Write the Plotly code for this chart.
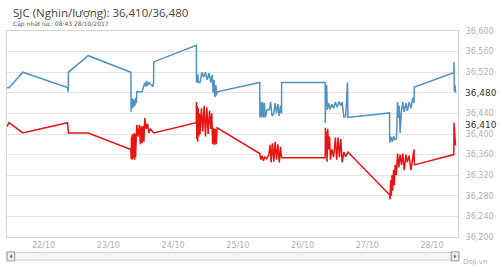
import plotly.graph_objects as go

sell_time = [
    "2017-10-21 10:24", "2017-10-21 11:08", "2017-10-21 16:16",
    "2017-10-22 08:50", "2017-10-22 09:05", "2017-10-22 09:11", "2017-10-22 16:32",
    "2017-10-23 08:21", "2017-10-23 08:25", "2017-10-23 08:40", "2017-10-23 08:55", "2017-10-23 09:10",
    "2017-10-23 09:20", "2017-10-23 09:35", "2017-10-23 09:50", "2017-10-23 10:05", "2017-10-23 10:20",
    "2017-10-23 10:33", "2017-10-23 12:30", "2017-10-23 13:29", "2017-10-23 13:50", "2017-10-23 14:10",
    "2017-10-23 14:30", "2017-10-23 15:00", "2017-10-23 15:40", "2017-10-23 16:30", "2017-10-23 16:45",
    "2017-10-23 16:48",
    "2017-10-24 08:36", "2017-10-24 08:40", "2017-10-24 08:50", "2017-10-24 09:00", "2017-10-24 09:10",
    "2017-10-24 09:20", "2017-10-24 10:00", "2017-10-24 10:40", "2017-10-24 11:20", "2017-10-24 12:00",
    "2017-10-24 12:40", "2017-10-24 13:20", "2017-10-24 14:00", "2017-10-24 14:30", "2017-10-24 14:50",
    "2017-10-24 15:10", "2017-10-24 15:30", "2017-10-24 15:50", "2017-10-24 16:05", "2017-10-24 16:19",
    "2017-10-25 08:07", "2017-10-25 08:10", "2017-10-25 08:30", "2017-10-25 08:50", "2017-10-25 09:10",
    "2017-10-25 09:30", "2017-10-25 09:50", "2017-10-25 10:10", "2017-10-25 10:50", "2017-10-25 11:40",
    "2017-10-25 12:10", "2017-10-25 12:40", "2017-10-25 13:20", "2017-10-25 13:50", "2017-10-25 14:20",
    "2017-10-25 14:50", "2017-10-25 15:20", "2017-10-25 15:50", "2017-10-25 16:12", "2017-10-25 16:14",
    "2017-10-26 08:23", "2017-10-26 08:26", "2017-10-26 08:35", "2017-10-26 08:45", "2017-10-26 08:55",
    "2017-10-26 09:10", "2017-10-26 09:40", "2017-10-26 10:10", "2017-10-26 10:50", "2017-10-26 11:30",
    "2017-10-26 12:10", "2017-10-26 12:50", "2017-10-26 13:30", "2017-10-26 14:10", "2017-10-26 14:40",
    "2017-10-26 15:20", "2017-10-26 16:00", "2017-10-26 16:40", "2017-10-26 16:49",
    "2017-10-27 08:15", "2017-10-27 08:18", "2017-10-27 08:45", "2017-10-27 09:15", "2017-10-27 09:45",
    "2017-10-27 10:20", "2017-10-27 10:50", "2017-10-27 11:13", "2017-10-27 11:30", "2017-10-27 11:50",
    "2017-10-27 12:10", "2017-10-27 12:40", "2017-10-27 13:10", "2017-10-27 13:40", "2017-10-27 14:20",
    "2017-10-27 14:50", "2017-10-27 15:30", "2017-10-27 16:10", "2017-10-27 16:50", "2017-10-27 17:20",
    "2017-10-27 17:27",
    "2017-10-28 08:05", "2017-10-28 08:09", "2017-10-28 08:15", "2017-10-28 08:22", "2017-10-28 08:30",
    "2017-10-28 08:36", "2017-10-28 08:43",
]
sell_value = [
    36490, 36490, 36520,
    36490, 36482, 36520, 36552,
    36520, 36443, 36470, 36450, 36468,
    36452, 36466, 36455, 36470, 36460,
    36482, 36482, 36499, 36492, 36503,
    36494, 36500, 36496, 36492, 36500,
    36540,
    36572, 36500, 36515, 36500, 36516,
    36500, 36500, 36520, 36510, 36520,
    36505, 36518, 36500, 36515, 36480,
    36505, 36472, 36495, 36475, 36482,
    36500, 36432, 36462, 36432, 36462,
    36432, 36460, 36432, 36447, 36447,
    36462, 36435, 36440, 36460, 36440,
    36458, 36435, 36455, 36440, 36500,
    36500, 36422, 36490, 36455, 36495,
    36447, 36460, 36448, 36458, 36450,
    36462, 36452, 36463, 36455, 36462,
    36432, 36435, 36500, 36432,
    36441, 36383, 36395, 36385, 36396,
    36388, 36392, 36462, 36431, 36455,
    36402, 36445, 36462, 36443, 36460,
    36445, 36462, 36450, 36470, 36460,
    36491,
    36519, 36540, 36482, 36495, 36486,
    36492, 36480,
]

buy_time = [
    "2017-10-21 10:24", "2017-10-21 11:08", "2017-10-21 16:16",
    "2017-10-22 08:50", "2017-10-22 09:11", "2017-10-22 16:32",
    "2017-10-23 08:21", "2017-10-23 08:25", "2017-10-23 08:35", "2017-10-23 08:45", "2017-10-23 08:55",
    "2017-10-23 09:05", "2017-10-23 09:15", "2017-10-23 09:25", "2017-10-23 09:35", "2017-10-23 09:45",
    "2017-10-23 09:55", "2017-10-23 10:05", "2017-10-23 10:20", "2017-10-23 10:33", "2017-10-23 11:00",
    "2017-10-23 11:30", "2017-10-23 11:50", "2017-10-23 12:10", "2017-10-23 12:30", "2017-10-23 12:50",
    "2017-10-23 13:10", "2017-10-23 13:30", "2017-10-23 14:00", "2017-10-23 14:30", "2017-10-23 15:00",
    "2017-10-23 15:30", "2017-10-23 16:48",
    "2017-10-24 08:36", "2017-10-24 08:38", "2017-10-24 08:48", "2017-10-24 08:58", "2017-10-24 09:08",
    "2017-10-24 09:18", "2017-10-24 09:30", "2017-10-24 09:45", "2017-10-24 10:00", "2017-10-24 10:30",
    "2017-10-24 11:00", "2017-10-24 11:30", "2017-10-24 12:00", "2017-10-24 12:30", "2017-10-24 13:00",
    "2017-10-24 13:30", "2017-10-24 14:00", "2017-10-24 14:20", "2017-10-24 14:40", "2017-10-24 15:00",
    "2017-10-24 15:20", "2017-10-24 15:40", "2017-10-24 16:00", "2017-10-24 16:19",
    "2017-10-25 08:07", "2017-10-25 08:30", "2017-10-25 09:00", "2017-10-25 09:30", "2017-10-25 10:00",
    "2017-10-25 10:40", "2017-10-25 11:30", "2017-10-25 12:00", "2017-10-25 12:20", "2017-10-25 12:50",
    "2017-10-25 13:20", "2017-10-25 13:50", "2017-10-25 14:20", "2017-10-25 14:50", "2017-10-25 15:20",
    "2017-10-25 15:50", "2017-10-25 16:12",
    "2017-10-26 08:23", "2017-10-26 08:28", "2017-10-26 08:40", "2017-10-26 08:52", "2017-10-26 09:05",
    "2017-10-26 09:20", "2017-10-26 09:40", "2017-10-26 10:00", "2017-10-26 10:20", "2017-10-26 10:50",
    "2017-10-26 11:30", "2017-10-26 12:10", "2017-10-26 12:40", "2017-10-26 13:10", "2017-10-26 13:40",
    "2017-10-26 14:10", "2017-10-26 14:40", "2017-10-26 15:20", "2017-10-26 16:00", "2017-10-26 16:49",
    "2017-10-27 08:15", "2017-10-27 08:25", "2017-10-27 08:40", "2017-10-27 08:55", "2017-10-27 09:10",
    "2017-10-27 09:25", "2017-10-27 09:45", "2017-10-27 10:00", "2017-10-27 10:20", "2017-10-27 10:45",
    "2017-10-27 11:13", "2017-10-27 11:40", "2017-10-27 12:10", "2017-10-27 12:40", "2017-10-27 13:10",
    "2017-10-27 13:40", "2017-10-27 14:20", "2017-10-27 14:50", "2017-10-27 15:30", "2017-10-27 16:10",
    "2017-10-27 16:50", "2017-10-27 17:20", "2017-10-27 17:27",
    "2017-10-28 08:05", "2017-10-28 08:09", "2017-10-28 08:20", "2017-10-28 08:30", "2017-10-28 08:43",
]
buy_value = [
    36414, 36422, 36402,
    36422, 36402, 36402,
    36370, 36352, 36395, 36350, 36400,
    36352, 36398, 36355, 36402, 36350,
    36400, 36355, 36395, 36418, 36395,
    36418, 36380, 36415, 36382, 36416,
    36385, 36431, 36410, 36420, 36402,
    36410, 36402,
    36422, 36462, 36390, 36455, 36385,
    36450, 36395, 36440, 36400, 36450,
    36405, 36455, 36395, 36452, 36400,
    36445, 36410, 36440, 36380, 36412,
    36379, 36410, 36380, 36412,
    36362, 36350, 36358, 36348, 36356,
    36352, 36360, 36379, 36345, 36382,
    36346, 36385, 36350, 36380, 36345,
    36375, 36354,
    36354, 36412, 36360, 36405, 36346,
    36410, 36370, 36395, 36350, 36370,
    36355, 36393, 36350, 36393, 36355,
    36390, 36345, 36365, 36356, 36365,
    36282, 36273, 36310, 36280, 36320,
    36290, 36330, 36300, 36340, 36320,
    36362, 36335, 36360, 36340, 36362,
    36330, 36360, 36345, 36358, 36330,
    36360, 36370, 36340,
    36360, 36422, 36395, 36400, 36378,
]

y_ticks = list(range(36200, 36601, 40))
y_tick_text = ["" if v == 36480 else f"{v:,}" for v in y_ticks]
current_buy = 36410
current_sell = 36480
title_text = "SJC (Nghin/lượng): 36,410/36,480"
subtitle_text = "Cập nhật lúc: 08:43 28/10/2017"

fig = go.Figure()
fig.add_trace(go.Scatter(x=sell_time, y=sell_value, mode="lines",
                         line=dict(color="#4f93c3", width=1.5), hoverinfo="skip"))
fig.add_trace(go.Scatter(x=buy_time, y=buy_value, mode="lines",
                         line=dict(color="#e81414", width=1.5), hoverinfo="skip"))

font_family = "DejaVu Sans"
fig.update_layout(
    width=500, height=268,
    margin=dict(l=6, r=39, t=31, b=31),
    paper_bgcolor="white", plot_bgcolor="white",
    showlegend=False,
    font=dict(family=font_family, size=8, color="#aaaaaa"),
    xaxis=dict(
        type="date",
        range=["2017-10-21 10:24", "2017-10-28 09:38"],
        dtick=86400000, tick0="2017-10-22",
        tickformat="%d/%m",
        showgrid=False, zeroline=False,
        showline=True, linecolor="#d4d4d4", linewidth=1, mirror=True,
        ticks="", tickfont=dict(size=8, color="#b0b0b0"),
    ),
    yaxis=dict(
        side="right",
        range=[36200, 36600],
        tickvals=y_ticks, ticktext=y_tick_text,
        showgrid=True, gridcolor="#e4e4e4", gridwidth=1,
        zeroline=False,
        showline=True, linecolor="#d4d4d4", linewidth=1, mirror=True,
        ticks="outside", ticklen=5, tickcolor="rgba(0,0,0,0)",
        tickfont=dict(size=8, color="#b0b0b0"),
    ),
)

annotations = [
    dict(text=title_text, x=0.009, y=1.092, xref="paper", yref="paper",
         xanchor="left", yanchor="middle", showarrow=False,
         font=dict(family="Open Sans", size=11.5, color="#444444")),
    dict(text=subtitle_text, x=0.009, y=1.034, xref="paper", yref="paper",
         xanchor="left", yanchor="middle", showarrow=False,
         font=dict(family=font_family, size=6, color="#555555")),
    dict(text=f"{current_sell:,}", x=1, y=current_sell, xref="paper", yref="y",
         xanchor="left", yanchor="middle", xshift=5, showarrow=False,
         font=dict(family=font_family, size=9, color="#333333")),
    dict(text=f"{current_buy:,}", x=1, y=current_buy, xref="paper", yref="y",
         xanchor="left", yanchor="middle", xshift=5, yshift=4, showarrow=False,
         font=dict(family=font_family, size=9, color="#333333")),
    dict(text="Doji.vn", x=1.037, y=-0.121, xref="paper", yref="paper",
         xanchor="center", yanchor="middle", showarrow=False,
         font=dict(family=font_family, size=7, color="#b0b0b0")),
]
fig.update_layout(annotations=annotations)

shapes = [
    dict(type="rect", xref="paper", yref="paper", x0=0, x1=1.002, y0=-0.112, y1=-0.076,
         fillcolor="#f6f6f6", line=dict(color="#d0d0d0", width=1), layer="below"),
    dict(type="rect", xref="paper", yref="paper", x0=0, x1=0.017, y0=-0.116, y1=-0.072,
         fillcolor="#eeeeee", line=dict(color="#999999", width=1)),
    dict(type="rect", xref="paper", yref="paper", x0=0.985, x1=1.002, y0=-0.116, y1=-0.072,
         fillcolor="#eeeeee", line=dict(color="#999999", width=1)),
    dict(type="path", xref="paper", yref="paper",
         path="M 0.0105 -0.087 L 0.0065 -0.094 L 0.0105 -0.101 Z",
         fillcolor="#555555", line=dict(color="#555555", width=0.5)),
    dict(type="path", xref="paper", yref="paper",
         path="M 0.9915 -0.087 L 0.9955 -0.094 L 0.9915 -0.101 Z",
         fillcolor="#555555", line=dict(color="#555555", width=0.5)),
]
fig.update_layout(shapes=shapes)

fig.write_html("out.html")
